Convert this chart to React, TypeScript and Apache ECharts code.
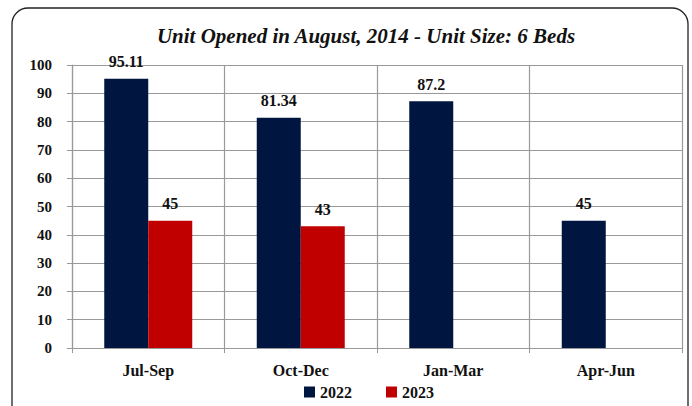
import React, { useEffect, useRef } from "react";
import * as echarts from "echarts";

const categories = ["Jul-Sep", "Oct-Dec", "Jan-Mar", "Apr-Jun"];
const series2022 = [95.11, 81.34, 87.2, 45];
const series2023: (number | null)[] = [45, 43, null, null];
const yTicks = { min: 0, max: 100, interval: 10 };

const FONT = "'Liberation Serif', 'DejaVu Serif', serif";

export default function App() {
  const ref = useRef<HTMLDivElement>(null);
  useEffect(() => {
    if (!ref.current) return;
    const chart = echarts.init(ref.current, undefined, { renderer: "svg" });
    const labelStyle = {
      show: true,
      position: "top" as const,
      fontFamily: FONT,
      fontWeight: "bold" as const,
      fontSize: 16,
      color: "#111",
      distance: 9,
    };
    chart.setOption({
      animation: false,
      backgroundColor: "#fff",
      title: {
        text: "Unit Opened in August, 2014 - Unit Size: 6 Beds",
        left: 361,
        textAlign: "center",
        top: 20,
        textStyle: {
          fontFamily: FONT,
          fontStyle: "italic",
          fontWeight: "bold",
          fontSize: 21,
          color: "#111",
        },
      },
      legend: {
        bottom: 1,
        left: 299,
        itemWidth: 11,
        itemHeight: 11,
        itemGap: 34,
        icon: "rect",
        textStyle: { fontFamily: FONT, fontWeight: "bold", fontSize: 16, color: "#111" },
      },
      graphic: [
        {
          type: "rect",
          shape: { x: 12, y: 8, width: 676, height: 440, r: 16 },
          style: { fill: "none", stroke: "#222", lineWidth: 1.3 },
          silent: true,
        },
      ],
      grid: { left: 72, right: 10, top: 65, bottom: 58 },
      xAxis: {
        type: "category",
        data: categories,
        axisLine: { lineStyle: { color: "#999", width: 1.2 } },
        axisTick: { show: true, length: 5, lineStyle: { color: "#999" } },
        splitLine: { show: true, lineStyle: { color: "#999", width: 1.2 } },
        axisLabel: {
          fontFamily: FONT,
          fontWeight: "bold",
          fontSize: 16,
          color: "#111",
          margin: 14,
        },
      },
      yAxis: {
        type: "value",
        min: yTicks.min,
        max: yTicks.max,
        interval: yTicks.interval,
        axisLine: { show: true, lineStyle: { color: "#999", width: 1.2 } },
        axisTick: { show: true, length: 5, lineStyle: { color: "#999" } },
        splitLine: { show: true, lineStyle: { color: "#999", width: 1.2 } },
        axisLabel: {
          fontFamily: FONT,
          fontWeight: "bold",
          fontSize: 15,
          color: "#111",
          margin: 20,
        },
      },
      series: [
        {
          name: "2022",
          type: "bar",
          data: series2022,
          barWidth: 44,
          barGap: "0%",
          itemStyle: { color: "#001641" },
          label: labelStyle,
        },
        {
          name: "2023",
          type: "bar",
          data: series2023,
          barWidth: 44,
          barGap: "0%",
          itemStyle: { color: "#C00000" },
          label: labelStyle,
        },
      ],
    });
    return () => chart.dispose();
  }, []);
  return (
    <div
      ref={ref}
      style={{ position: "fixed", left: 0, top: 0, width: 692, height: 406, background: "#fff" }}
    />
  );
}
